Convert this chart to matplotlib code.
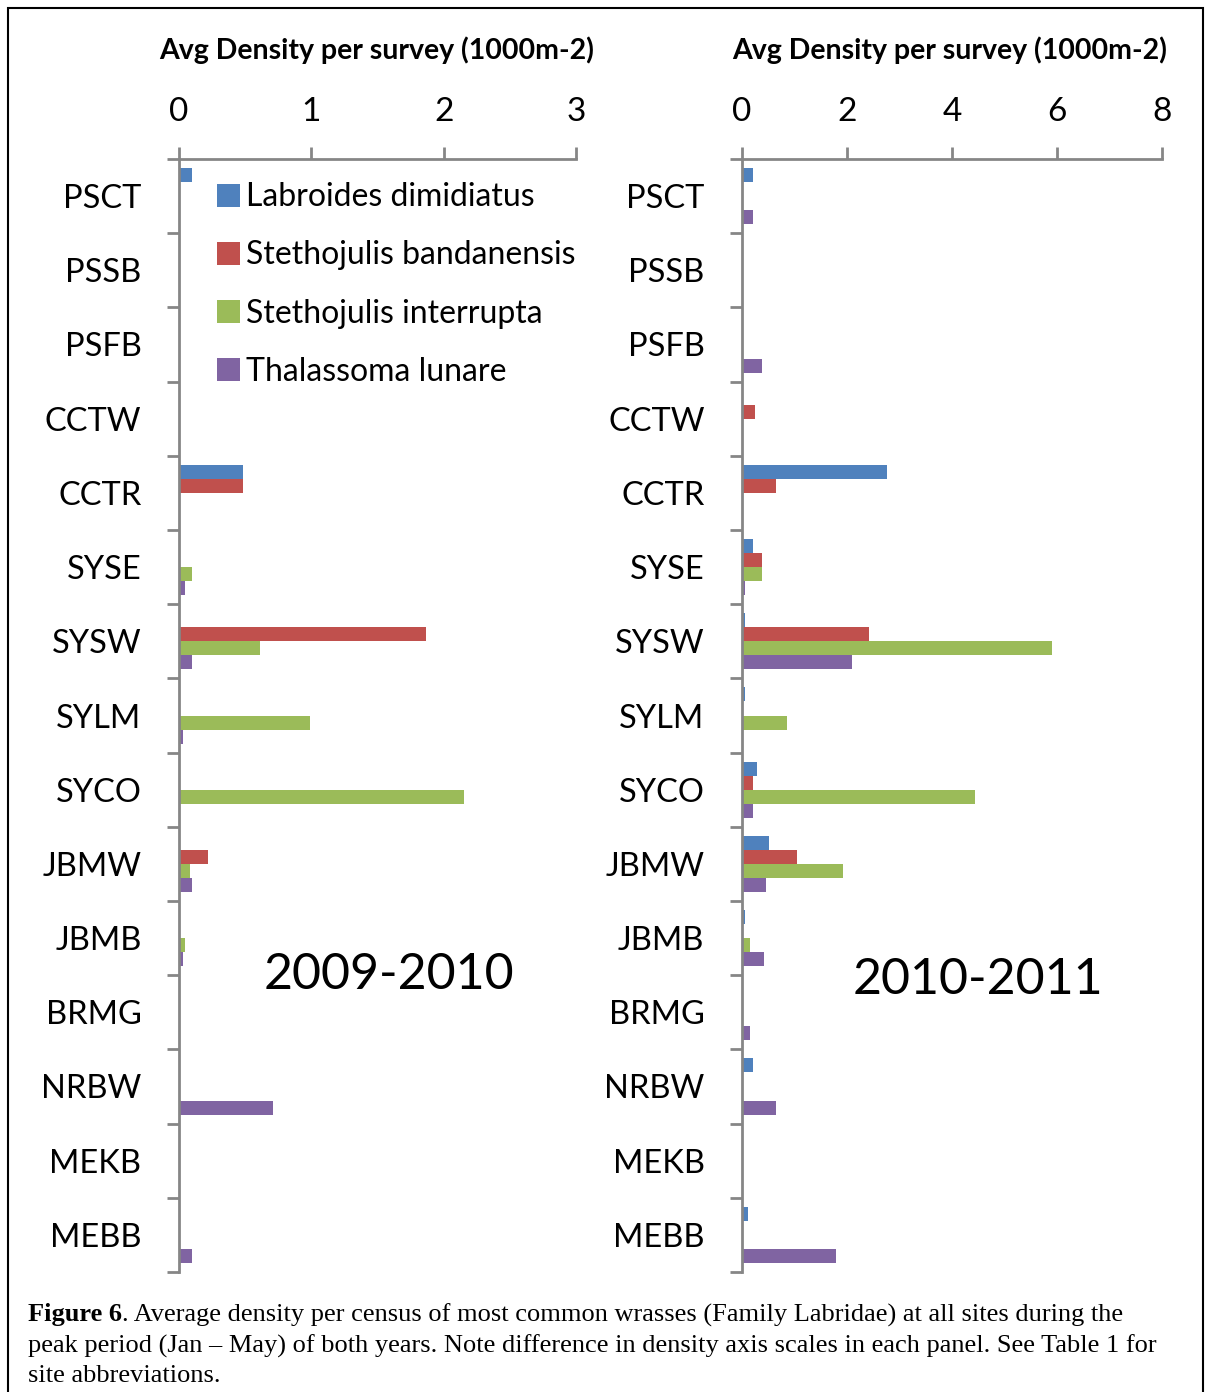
import numpy as np
from matplotlib import pyplot as plt
from matplotlib.patches import Rectangle

plt.rcParams['font.family'] = ['Lato', 'DejaVu Sans']

sites = ['PSCT', 'PSSB', 'PSFB', 'CCTW', 'CCTR', 'SYSE', 'SYSW', 'SYLM',
         'SYCO', 'JBMW', 'JBMB', 'BRMG', 'NRBW', 'MEKB', 'MEBB']
species = ['Labroides dimidiatus', 'Stethojulis bandanensis',
           'Stethojulis interrupta', 'Thalassoma lunare']
colors = ['#4F81BD', '#C0504D', '#9BBB59', '#8064A2']

# 2009-2010
lab_0910 = [0.10, 0.01, 0, 0, 0.48, 0, 0, 0, 0, 0, 0, 0, 0, 0, 0]
sba_0910 = [0, 0, 0, 0, 0.48, 0, 1.87, 0, 0, 0.22, 0, 0, 0, 0, 0]
sin_0910 = [0, 0, 0, 0, 0, 0.10, 0.61, 0.99, 2.15, 0.08, 0.045, 0, 0, 0, 0]
tlu_0910 = [0, 0, 0, 0, 0, 0.045, 0.10, 0.03, 0, 0.10, 0.03, 0, 0.71, 0, 0.10]

# 2010-2011
lab_1011 = [0.20, 0.01, 0, 0, 2.76, 0.20, 0.06, 0.06, 0.29, 0.51, 0.06, 0, 0.20, 0, 0.11]
sba_1011 = [0, 0, 0, 0.25, 0.65, 0.38, 2.41, 0, 0.20, 1.04, 0, 0, 0, 0, 0]
sin_1011 = [0, 0.01, 0, 0, 0.01, 0.38, 5.90, 0.86, 4.44, 1.93, 0.16, 0, 0, 0, 0]
tlu_1011 = [0.20, 0, 0.38, 0, 0, 0.06, 2.10, 0, 0.20, 0.46, 0.42, 0.16, 0.65, 0, 1.79]

W, H = 1205, 1392
fig = plt.figure(figsize=(W / 100, H / 100), dpi=100)

axL = fig.add_axes([179 / W, 1 - 1272 / H, 397 / W, 1113 / H])
axR = fig.add_axes([742 / W, 1 - 1272 / H, 420 / W, 1113 / H])

y = np.arange(len(sites))
h = 0.19
grey = '#868686'


def panel(ax, data, xmax, step):
    for i, vals in enumerate(data):
        ax.barh(y + (i - 1.5) * h, vals, height=h, color=colors[i],
                label=species[i], edgecolor='none')
    ax.set_xlim(0, xmax)
    ax.set_ylim(len(sites) - 0.5, -0.5)
    ax.xaxis.tick_top()
    ax.set_xticks(np.arange(0, xmax + 0.01, step))
    ax.tick_params(axis='x', direction='out', length=9, width=2, color=grey,
                   labelsize=24, pad=14)
    ax.set_yticks(y)
    ax.set_yticklabels(sites)
    ax.set_yticks(np.arange(-0.5, len(sites), 1), minor=True)
    ax.tick_params(axis='y', which='major', length=0, labelsize=23.5, pad=27)
    ax.tick_params(axis='y', which='minor', direction='out', length=9,
                   width=2, color=grey)
    for s in ['right', 'bottom']:
        ax.spines[s].set_visible(False)
    for s in ['top', 'left']:
        ax.spines[s].set_color(grey)
        ax.spines[s].set_linewidth(2)
    ax.set_facecolor('none')


panel(axL, [lab_0910, sba_0910, sin_0910, tlu_0910], 3, 1)
panel(axR, [lab_1011, sba_1011, sin_1011, tlu_1011], 8, 2)

axL.legend(loc='upper left', bbox_to_anchor=(0.095, 0.979), frameon=False,
           fontsize=23, handlelength=0.72, handleheight=0.72,
           handletextpad=0.2, labelspacing=0.88, borderpad=0, borderaxespad=0)

axL.text(1.59, 10.5, '2009-2010', fontsize=36, ha='center', va='center')
axR.text(4.5, 10.56, '2010-2011', fontsize=36, ha='center', va='center')

fig.text(377 / W, 1 - 50 / H, 'Avg Density per survey (1000m-2)',
         fontsize=20.5, fontweight='bold', ha='center', va='center')
fig.text(950 / W, 1 - 50 / H, 'Avg Density per survey (1000m-2)',
         fontsize=20.5, fontweight='bold', ha='center', va='center')

# caption
cap = dict(family='Liberation Serif', fontsize=19)
t1 = fig.text(28 / W, 1 - 1315 / H, 'Figure 6', fontweight='bold',
              va='center', **cap)
fig.canvas.draw()
ext = t1.get_window_extent()
fig.text(ext.x1 / W, 1 - 1315 / H,
         '. Average density per census of most common wrasses (Family Labridae) at all sites during the',
         va='center', **cap)
fig.text(28 / W, 1 - 1346 / H,
         'peak period (Jan \u2013 May) of both years. Note difference in density axis scales in each panel. See Table 1 for',
         va='center', **cap)
fig.text(28 / W, 1 - 1376 / H, 'site abbreviations.', va='center', **cap)

fig.patches.append(Rectangle((8 / W, -0.05), 1195 / W, 1.05 - 8 / H,
                             transform=fig.transFigure, fill=False,
                             edgecolor='black', linewidth=1.5))

fig.savefig('out.png', dpi=100)
